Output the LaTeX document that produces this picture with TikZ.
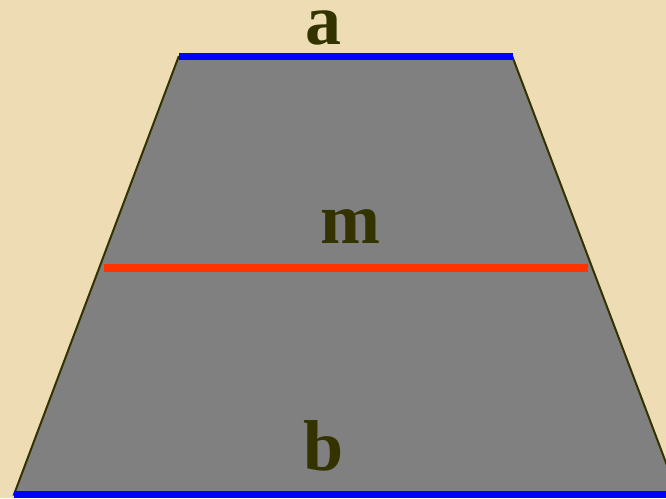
\documentclass[tikz,border=0pt]{standalone}
\usepackage{fontspec}
\setmainfont{Liberation Serif}
\definecolor{papel}{HTML}{EEDCB4}
\definecolor{oliva}{HTML}{333300}
\definecolor{gris}{HTML}{808080}
\definecolor{rojo}{HTML}{FF3300}
\tikzset{
  etiqueta/.style={text=oliva,anchor=base,inner sep=0pt,font=\bfseries\fontsize{72}{72}\selectfont},
  base/.style={line width=7pt,blue,line cap=butt},
  media/.style={line width=8pt,rojo,line cap=butt}
}

\begin{document}
\begin{tikzpicture}[x=1pt,y=1pt]
  % ===================== fondo =====================
  \useasboundingbox (0,0) rectangle (666,498);
  \fill[papel] (0,0) rectangle (666,498);
  \clip (0,0) rectangle (666,498);
  % ===================== trapecio =====================
  \coordinate (A) at (178.5,441);
  \coordinate (B) at (512.5,441);
  \coordinate (C) at (678,3.5);
  \coordinate (D) at (14,3.5);
  \fill[gris] (A)--(B)--(C)--(D)--cycle; \draw[oliva,line width=2pt] (A)--(B)--(C)--(D)--cycle;
  % bases
  \coordinate (a1) at (179,441.5); \coordinate (a2) at (512.5,441.5);
  \draw[base] (a1)--(a2);
  \coordinate (b1) at (14,3.5); \coordinate (b2) at (670,3.5);
  \draw[base] (b1)--(b2);
  % mediana
  \coordinate (m1) at (104,230); \coordinate (m2) at (588,230);
  \draw[media] (m1)--(m2);
  % ===================== etiquetas =====================
  \node[etiqueta] (lbla) at (323,453){a};
  \node[etiqueta] (lblm) at (350,254.5){m};
  \node[etiqueta] (lblb) at (324,28){b};
\end{tikzpicture}
\end{document}
